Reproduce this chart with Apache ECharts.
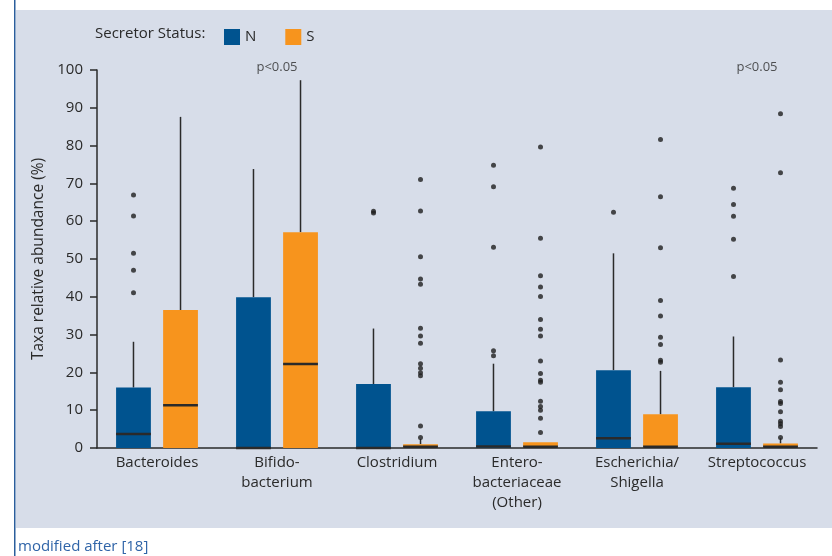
<!DOCTYPE html>
<html>
<head>
    <meta http-equiv="Content-Type" content="text/html; charset=utf-8"/>
    <script src="https://cdn.jsdelivr.net/npm/echarts@6/dist/echarts.min.js"></script>
    <style>
        html, body { margin: 0; padding: 0; background: #fff; }
    </style>
</head>
<body>
<div id="main" style="width:832px;height:556px;"></div>

<script type="text/javascript">
    // taxa on the x axis
    var taxa = ['Bacteroides', 'Bifido-\nbacterium', 'Clostridium', 'Entero-\nbacteriaceae\n(Other)', 'Escherichia/\nShigella', 'Streptococcus'];
    var yTicks = [0, 10, 20, 30, 40, 50, 60, 70, 80, 90, 100];

    // box summaries per taxon: [min, q1, median, q3, upper whisker]
    var boxN = [
        [0, 0, 3.7, 16.0, 28.1],
        [0, 0, 0, 39.9, 73.8],
        [0, 0, 0, 16.9, 31.6],
        [0, 0, 0.4, 9.7, 22.3],
        [0, 0, 2.6, 20.6, 51.5],
        [0, 0, 1.1, 16.1, 29.5]
    ];
    var boxS = [
        [0, 0, 11.3, 36.5, 87.6],
        [0, 0, 22.2, 57.1, 97.3],
        [0, 0, 0.3, 1.0, 2.4],
        [0, 0, 0.35, 1.5, 1.5],
        [0, 0, 0.3, 8.9, 20.4],
        [0, 0, 0.3, 1.2, 2.6]
    ];

    // outliers, one list per taxon
    var outN = [
        [66.9, 61.4, 51.5, 47.0, 41.1],
        [],
        [62.2, 62.6],
        [74.8, 69.1, 53.1, 25.7, 24.4],
        [62.4],
        [68.7, 64.4, 61.3, 55.2, 45.4]
    ];
    var outS = [
        [],
        [],
        [71.0, 62.7, 50.6, 44.7, 43.3, 31.7, 29.6, 27.7, 22.3, 21.1, 19.9, 19.1, 5.8, 2.8],
        [79.6, 55.5, 45.6, 42.6, 40.1, 34.0, 31.4, 29.6, 23.0, 19.7, 17.9, 17.4, 12.4, 11.0, 10.0, 7.9, 4.1],
        [81.6, 66.5, 53.0, 39.0, 34.9, 29.3, 27.4, 23.2, 22.7],
        [88.4, 72.8, 23.3, 17.4, 15.4, 12.3, 11.8, 9.6, 7.1, 6.4, 5.7, 2.8]
    ];

    // significance marks
    var pLabels = [
        {taxon: 1, text: 'p<0.05'},
        {taxon: 5, text: 'p<0.05'}
    ];

    var colN = '#00538f';
    var colS = '#f7941d';
    var ink = '#2a2a2a';
    var font = 'Open Sans';

    function boxData(list) {
        return list.map(function (b, i) { return [i].concat(b); });
    }

    function outData(list) {
        var res = [];
        list.forEach(function (vals, i) {
            vals.forEach(function (v) { res.push([i, v]); });
        });
        return res;
    }

    // shift: fraction of the band width the box centre moves from the band centre
    function boxRenderer(shift, color) {
        return function (params, api) {
            var band = api.size([1, 0])[0];
            var w = band * 0.29;
            var cat = api.value(0);
            var q1 = api.coord([cat, api.value(2)]);
            var med = api.coord([cat, api.value(3)]);
            var q3 = api.coord([cat, api.value(4)]);
            var hi = api.coord([cat, api.value(5)]);
            var cx = q1[0] + band * shift;
            var kids = [];
            if (hi[1] < q3[1]) {
                kids.push({
                    type: 'line',
                    shape: {x1: cx, y1: hi[1], x2: cx, y2: q3[1]},
                    style: {stroke: ink, lineWidth: 1.5}
                });
            }
            kids.push({
                type: 'rect',
                shape: {x: cx - w / 2, y: q3[1], width: w, height: q1[1] - q3[1]},
                style: {fill: color}
            });
            kids.push({
                type: 'line',
                shape: {x1: cx - w / 2, y1: med[1], x2: cx + w / 2, y2: med[1]},
                style: {stroke: ink, lineWidth: 2.5}
            });
            return {type: 'group', children: kids};
        };
    }

    var chart = echarts.init(document.getElementById('main'));

    var option = {
        backgroundColor: '#fff',
        animation: false,
        textStyle: {fontFamily: font},
        graphic: [
            {type: 'rect', left: 16, top: 10, shape: {width: 816, height: 518}, style: {fill: '#d7dde9'}, z: -10},
            {type: 'rect', left: 14, top: 0, shape: {width: 1.5, height: 556}, style: {fill: '#2b5e9c'}, z: -9},
            {type: 'text', left: 18, top: 539, style: {text: 'modified after [18]', fill: '#2f64a8', font: '15px "Open Sans"'}},
            {type: 'text', left: 95, top: 26, style: {text: 'Secretor Status:', fill: ink, font: '15px "Open Sans"'}}
        ],
        legend: {
            data: ['N', 'S'],
            left: 219,
            top: 24,
            icon: 'rect',
            itemWidth: 16,
            itemHeight: 16,
            itemGap: 29,
            textStyle: {fontSize: 15, color: ink, fontFamily: font}
        },
        grid: {left: 97, right: 15, top: 70, bottom: 108},
        xAxis: {
            type: 'category',
            data: taxa,
            axisLine: {lineStyle: {color: ink, width: 1.5}},
            axisTick: {length: 5, lineStyle: {color: ink, width: 1.5}},
            axisLabel: {color: ink, fontSize: 15, lineHeight: 20, margin: 5, interval: 0}
        },
        yAxis: {
            type: 'value',
            min: 0,
            max: 100,
            interval: 10,
            name: 'Taxa relative abundance (%)',
            nameLocation: 'middle',
            nameGap: 49,
            nameTextStyle: {color: ink, fontSize: 15.5},
            axisLine: {show: true, lineStyle: {color: ink, width: 1.5}},
            axisTick: {show: true, length: 7, lineStyle: {color: ink, width: 1.5}},
            axisLabel: {
                color: ink, fontSize: 15, margin: 14,
                formatter: function (v) { return yTicks.indexOf(v) >= 0 ? String(v) : ''; }
            },
            splitLine: {show: false}
        },
        series: [
            {
                name: 'N',
                type: 'custom',
                itemStyle: {color: colN},
                renderItem: boxRenderer(-0.196, colN),
                encode: {x: 0, y: [1, 2, 3, 4, 5]},
                data: boxData(boxN)
            },
            {
                name: 'S',
                type: 'custom',
                itemStyle: {color: colS},
                renderItem: boxRenderer(0.196, colS),
                encode: {x: 0, y: [1, 2, 3, 4, 5]},
                data: boxData(boxS)
            },
            {
                name: 'N outliers',
                type: 'scatter',
                symbolSize: 5,
                symbolOffset: [-23.5, 0],
                itemStyle: {color: '#1e1e1e'},
                data: outData(outN)
            },
            {
                name: 'S outliers',
                type: 'scatter',
                symbolSize: 5,
                symbolOffset: [23.5, 0],
                itemStyle: {color: '#1e1e1e'},
                data: outData(outS)
            },
            {
                name: 'significance',
                type: 'scatter',
                symbolSize: 0,
                label: {
                    show: true,
                    position: 'inside',
                    offset: [0, -3],
                    color: ink,
                    fontSize: 13,
                    formatter: function (p) { return p.data.text; }
                },
                data: pLabels.map(function (p) { return {value: [p.taxon, 100], text: p.text}; })
            }
        ]
    };

    chart.setOption(option);
</script>
</body>
</html>
